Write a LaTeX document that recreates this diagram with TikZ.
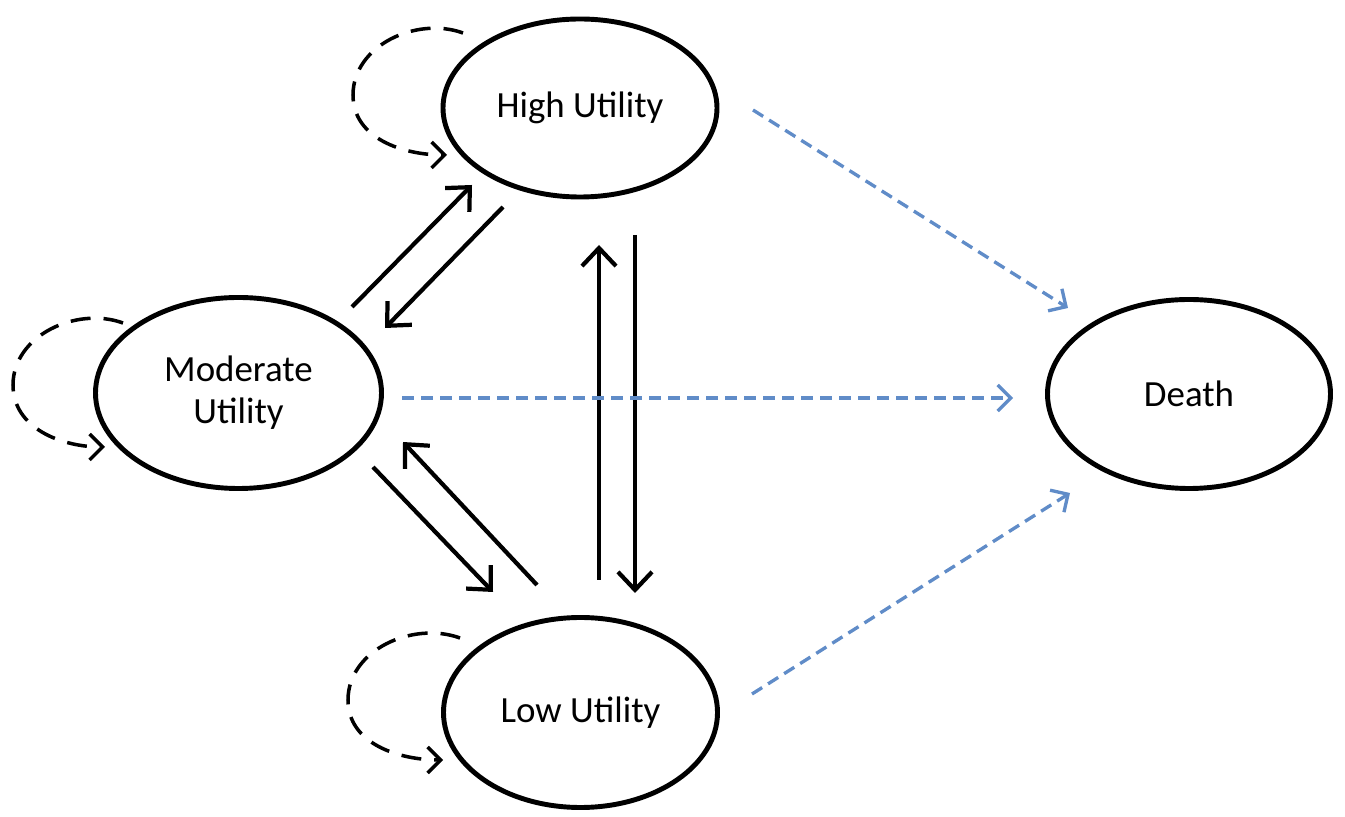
\documentclass[tikz,border=0pt]{standalone}
\usepackage{fontspec}
\setmainfont{Carlito}
\usetikzlibrary{shapes.geometric,arrows.meta}
\definecolor{deathblue}{RGB}{96,140,200}
\tikzset{
  state/.style={draw=black, line width=1.4pt, ellipse, inner sep=0pt, align=center, font=\fontsize{10.5}{12}\selectfont},
  trans/.style={draw=black, line width=1.2pt, -{Straight Barb[length=1.8mm,width=3.4mm,line width=1.2pt]}},
  loopline/.style={draw=black, line width=1pt, dash pattern=on 2mm off 1.3mm, -{Straight Barb[length=1.3mm,width=2.6mm,line width=1pt]}},
  deathline/.style={draw=deathblue, line width=0.95pt, dash pattern=on 1.2mm off 0.7mm, -{Straight Barb[length=1.3mm,width=2.6mm,line width=0.95pt]}}
}
\begin{document}
\begin{tikzpicture}
\useasboundingbox (0,0) rectangle (13.45,8.17);
% states
\node[state, minimum width=2.74cm, minimum height=1.78cm] (high) at (5.80,7.09) {High Utility};
\node[state, minimum width=2.86cm, minimum height=1.91cm] (mod) at (2.385,4.24) {Moderate\\Utility};
\node[state, minimum width=2.74cm, minimum height=1.90cm] (low) at (5.805,1.045) {Low Utility};
\node[state, minimum width=2.83cm, minimum height=1.89cm] (death) at (11.89,4.23) {Death};
% connector end points
\coordinate (mh1) at (3.52,5.10); \coordinate (mh2) at (4.72,6.32);
\coordinate (hm1) at (5.03,6.10); \coordinate (hm2) at (3.85,4.89);
\coordinate (ml1) at (3.73,3.50); \coordinate (ml2) at (4.93,2.25);
\coordinate (lm1) at (5.37,2.32); \coordinate (lm2) at (4.03,3.75);
\coordinate (lh1) at (5.99,2.37); \coordinate (lh2) at (5.99,5.72);
\coordinate (hl1) at (6.35,5.82); \coordinate (hl2) at (6.35,2.24);
\coordinate (hd1) at (7.53,7.07); \coordinate (hd2) at (10.68,5.09);
\coordinate (md1) at (4.02,4.19); \coordinate (md2) at (10.13,4.19);
\coordinate (ld1) at (7.52,1.23); \coordinate (ld2) at (10.70,3.24);
\coordinate (hh1) at (4.63,7.84); \coordinate (hh2) at (4.47,6.62);
\coordinate (mm1) at (1.23,4.94); \coordinate (mm2) at (1.05,3.70);
\coordinate (ll1) at (4.60,1.79); \coordinate (ll2) at (4.43,0.57);
% transitions
\draw[trans] (mh1) -- (mh2);
\draw[trans] (hm1) -- (hm2);
\draw[trans] (ml1) -- (ml2);
\draw[trans] (lm1) -- (lm2);
\draw[trans] (lh1) -- (lh2);
\draw[trans] (hl1) -- (hl2);
% to death
\draw[deathline] (hd1) -- (hd2);
\draw[deathline] (md1) -- (md2);
\draw[deathline] (ld1) -- (ld2);
% self loops
\draw[loopline] (hh1) to[out=160,in=90] (3.53,7.22) to[out=-90,in=180] (hh2);
\draw[loopline] (mm1) to[out=160,in=90] (0.13,4.32) to[out=-90,in=180] (mm2);
\draw[loopline] (ll1) to[out=160,in=90] (3.48,1.17) to[out=-90,in=180] (ll2);
\end{tikzpicture}
\end{document}
